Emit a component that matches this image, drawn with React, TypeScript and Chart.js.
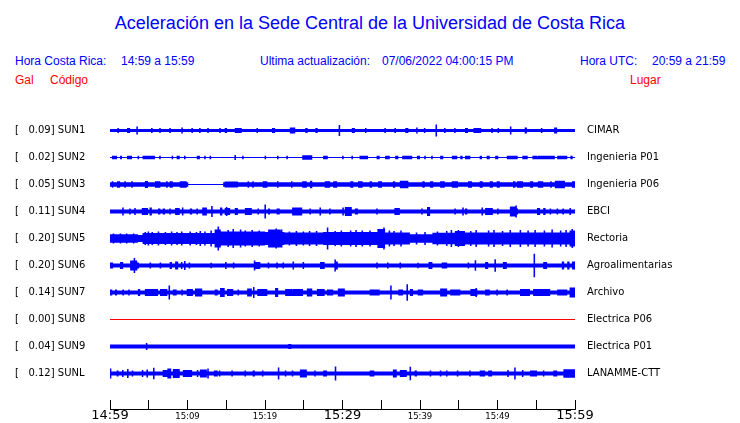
import React, { useEffect, useRef } from "react";
import { Chart, registerables } from "chart.js";
Chart.register(...registerables);

// ---------- data ----------
const stationCodes = ["SUN1", "SUN2", "SUN3", "SUN4", "SUN5", "SUN6", "SUN7", "SUN8", "SUN9", "SUNL"];
const stationNames = ["CIMAR", "Ingenieria P01", "Ingenieria P06", "EBCI", "Rectoria", "Agroalimentarias", "Archivo", "Electrica P06", "Electrica P01", "LANAMME-CTT"];
const peakGal = [0.09, 0.02, 0.05, 0.11, 0.2, 0.2, 0.14, 0.0, 0.04, 0.12];
// background (noise floor) half-amplitude of each trace
const baseAmp = [1.6, 0.5, 0.5, 2.0, 3.5, 2.0, 2.0, 0, 1.9, 2.0];

// bursts: [start minute, end minute, half-amplitude]
const sun1Bursts = [
  [1.0, 1.1, 2.4], [2.2, 2.6, 2.4], [3.45, 3.55, 4], [5.35, 5.45, 2.4], [6.4, 6.5, 2.4], [7.7, 7.8, 2.4],
  [9.2, 9.4, 3], [10.5, 10.7, 2.4], [11.5, 11.7, 2.4], [12.6, 12.7, 2.4], [14.1, 14.3, 2.4], [14.8, 15.1, 2.4],
  [16.1, 17.0, 2.4], [18.9, 19.1, 2.4], [20.9, 21.3, 2.4], [23.2, 23.9, 3], [25.2, 25.5, 2.4], [26.5, 26.8, 2.4],
  [29.55, 29.65, 5.5], [31.2, 31.6, 2.4], [32.9, 33.1, 2.4], [35.4, 35.6, 2.4], [36.7, 36.9, 2.4], [38.1, 38.5, 2.4],
  [39.5, 39.7, 3], [40.5, 40.7, 2.4], [42.05, 42.15, 6], [43.1, 43.3, 2.4], [44.4, 44.6, 2.4], [45.8, 46.2, 2.4],
  [46.9, 47.9, 2.4], [49.2, 49.4, 2.4], [50.0, 50.2, 2.4], [51.65, 51.75, 4], [53.5, 53.8, 3], [55.6, 55.8, 2.4],
  [57.3, 57.7, 3],
];
const sun2Bursts = [
  [0.25, 0.9, 1.8], [1.3, 1.55, 1.8], [2.2, 2.85, 1.8], [3.6, 3.7, 1.8], [4.2, 5.8, 1.8], [6.4, 6.5, 1.8],
  [8.0, 8.1, 1.8], [8.6, 9.0, 1.8], [9.6, 9.7, 1.8], [11.2, 11.6, 1.8], [12.2, 12.3, 1.8], [12.9, 13.0, 1.8],
  [16.1, 16.2, 2.5], [17.1, 17.2, 1.8], [20.0, 20.1, 1.8], [21.6, 21.7, 1.8], [22.8, 22.9, 1.8], [24.8, 26.1, 2.2],
  [27.5, 28.1, 1.8], [30.0, 30.1, 1.8], [31.2, 31.3, 1.8], [32.2, 33.3, 1.8], [34.4, 34.8, 1.8], [35.5, 36.1, 1.8],
  [36.8, 37.2, 1.8], [37.7, 39.0, 1.8], [39.6, 40.0, 1.8], [40.6, 40.7, 1.8], [41.5, 41.6, 1.8], [42.6, 43.0, 1.8],
  [44.1, 44.8, 1.8], [45.2, 45.5, 1.8], [45.8, 46.5, 1.8], [47.7, 48.0, 1.8], [48.6, 49.0, 1.8], [49.7, 50.1, 1.8],
  [51.2, 52.6, 1.8], [53.2, 53.9, 1.8], [54.5, 55.1, 1.8], [55.2, 57.4, 1.8], [57.7, 59.0, 1.8], [59.4, 59.7, 1.8],
];
const sun3Bursts = [
  [0, 10.1, 2.2], [14.6, 60, 2.2],
  [0.25, 0.4, 3.2], [0.9, 1.3, 3.2], [1.9, 2.0, 3.2], [2.8, 2.9, 3.2], [4.5, 4.9, 3.5], [5.8, 6.5, 3.2],
  [7.3, 7.4, 3.2], [7.7, 8.1, 3.2], [9.0, 9.9, 3.2], [14.8, 16.5, 3.0], [17.8, 17.9, 3.2], [18.4, 18.5, 3.2],
  [19.7, 20.3, 3.2], [21.6, 21.7, 3.2], [23.4, 23.5, 3.2], [24.8, 25.4, 3.2], [25.8, 26.1, 3.8], [27.7, 28.4, 3.2],
  [28.8, 29.3, 3.2], [31.0, 31.4, 3.2], [32.0, 32.6, 3.2], [33.5, 33.8, 3.2], [34.6, 35.1, 3.2], [36.5, 36.8, 3.2],
  [37.4, 38.5, 3.8], [40.3, 40.6, 3.2], [41.3, 41.7, 3.2], [42.6, 43.2, 3.2], [44.1, 44.9, 3.2], [46.2, 46.7, 3.2],
  [47.7, 48.1, 3.2], [49.0, 49.4, 3.2], [49.9, 50.3, 3.2], [52.0, 52.3, 3.2], [52.5, 53.3, 3.2], [54.2, 54.6, 3.2],
  [55.2, 55.9, 3.2], [56.8, 57.0, 3.2], [57.4, 58.7, 3.8], [59.6, 60, 3.2],
];
const sun4Bursts = [
  [1.6, 1.75, 4], [2.5, 2.65, 3], [3.15, 3.3, 3.5], [4.1, 4.9, 3.5], [5.1, 5.4, 4], [6.2, 6.5, 3], [6.8, 7.1, 3],
  [7.7, 7.8, 3], [8.4, 9.0, 3.5], [9.3, 9.45, 4], [10.3, 10.6, 3], [11.2, 11.3, 3], [11.9, 12.5, 4], [13.1, 13.2, 5.5],
  [14.2, 14.5, 4], [14.8, 15.5, 3.5], [15.0, 15.1, 4.5], [16.1, 16.5, 3.5], [17.4, 18.3, 3.5], [19.05, 19.2, 3],
  [19.95, 20.1, 7], [20.4, 20.65, 3], [21.5, 21.9, 3], [23.5, 24.8, 4], [25.75, 25.9, 3], [27.05, 27.2, 4],
  [28.3, 28.45, 3], [30.0, 30.15, 4], [30.3, 31.2, 4.5], [31.6, 32.0, 3], [34.4, 34.5, 3], [36.7, 37.4, 3.5],
  [40.2, 40.3, 3], [40.9, 41.3, 4.5], [44.45, 44.6, 3], [45.5, 45.6, 4], [45.8, 46.1, 3], [47.95, 48.1, 4],
  [48.4, 49.4, 3.5], [50.0, 50.1, 3], [51.6, 52.3, 5], [52.35, 52.45, 6], [52.5, 52.6, 3], [55.1, 55.5, 3.5],
  [55.9, 56.2, 3.5], [56.75, 56.9, 3], [57.65, 57.8, 3], [58.4, 58.55, 3], [59.3, 59.45, 3.5],
];
const sun5Bursts = [
  [0, 3.6, 4.3], [4.2, 13.5, 5.5], [13.5, 14.3, 9], [13.9, 14.05, 12], [14.3, 20, 7], [15.8, 16.0, 9.5],
  [20, 22.5, 6.5], [20.4, 22.0, 9], [22.5, 27.5, 6], [28.0, 28.15, 11], [27.5, 34.5, 6.5], [34.5, 35.5, 9.5],
  [35.3, 35.4, 11], [35.5, 38.7, 6], [38.7, 41.6, 4.2], [41.6, 44.5, 5.8], [44.5, 45.8, 7.5], [45.8, 60, 6],
  [0.4, 0.5, 5], [1.3, 1.4, 5], [2.1, 2.2, 5], [3.0, 3.1, 5], [4.5, 4.6, 6.5], [4.9, 5.0, 7], [5.4, 5.5, 6.5],
  [6.2, 6.3, 7], [7.1, 7.2, 6.5], [7.9, 8.0, 7], [8.6, 8.7, 6.5], [9.2, 9.3, 7], [10.3, 10.4, 7], [11.1, 11.2, 6.5],
  [11.6, 11.7, 7.5], [12.2, 12.3, 7], [13.0, 13.1, 8], [15.2, 15.3, 8.5], [16.8, 16.9, 9], [17.4, 17.5, 8],
  [18.3, 18.4, 8.5], [19.2, 19.3, 8], [20.8, 20.9, 8.5], [21.4, 21.5, 10], [22.1, 22.2, 9], [23.1, 23.2, 7],
  [24.0, 24.1, 7.5], [24.9, 25.0, 7], [25.7, 25.8, 7.5], [26.6, 26.7, 7.5], [29.0, 29.1, 7.5], [29.8, 29.9, 8],
  [31.0, 31.1, 8], [31.7, 31.8, 8.5], [32.5, 32.6, 8], [33.5, 33.6, 8], [36.0, 36.1, 8], [36.6, 36.7, 7.5],
  [37.5, 37.6, 8], [39.5, 39.6, 6], [40.6, 40.7, 6.5], [42.2, 42.3, 7], [43.4, 43.5, 7.5], [44.0, 44.1, 8.5],
  [44.9, 45.0, 8.5], [46.5, 46.6, 7.5], [47.2, 47.3, 8.5], [48.8, 48.9, 8], [49.5, 49.6, 8.5], [50.6, 50.7, 7.5],
  [51.6, 51.7, 8.5], [52.9, 53.0, 8.5], [53.9, 54.0, 8], [54.8, 54.9, 8.5], [56.0, 56.1, 8], [57.0, 57.1, 9],
  [58.1, 58.2, 8], [58.8, 58.9, 8.5], [59.3, 60, 8], [59.6, 59.7, 9.5],
];
const sun6Bursts = [
  [0, 0.4, 3], [1.3, 1.7, 3.5], [2.6, 3.5, 5], [3.1, 3.2, 7.5], [3.6, 3.7, 3], [5.15, 5.25, 3], [6.45, 6.55, 3],
  [7.7, 8.0, 3.5], [8.4, 8.8, 4], [9.2, 9.3, 3.5], [9.6, 9.7, 4.5], [10.2, 10.3, 3], [13.0, 13.1, 2.8],
  [14.9, 15.0, 3.5], [15.9, 16.0, 3], [18.6, 19.4, 3.5], [18.6, 18.7, 5], [20.4, 20.5, 3], [21.5, 21.6, 3],
  [22.3, 22.4, 3], [23.6, 23.7, 4], [24.9, 25.0, 3.5], [27.1, 27.7, 3.5], [29.0, 29.4, 4], [29.0, 29.1, 6],
  [34.4, 34.5, 3], [35.8, 35.9, 3], [37.4, 37.5, 3], [39.7, 39.8, 2.8], [41.1, 41.6, 3.5], [42.8, 43.5, 3],
  [46.2, 46.3, 3], [47.1, 47.2, 5.3], [48.4, 48.8, 3.5], [49.65, 49.75, 6.3], [50.7, 51.2, 3.5], [54.7, 54.8, 11.7],
  [55.9, 56.4, 3.5], [58.3, 58.6, 4], [59.0, 59.3, 4], [59.6, 60, 4],
];
const sun7Bursts = [
  [0, 0.3, 3], [0.65, 0.9, 3], [1.6, 1.8, 3], [2.4, 2.5, 3], [3.6, 3.9, 3.5], [4.5, 6.2, 3.4], [6.45, 7.4, 3.5],
  [7.6, 7.7, 7], [8.1, 8.6, 3], [9.25, 9.35, 3], [9.9, 10.7, 3.5], [10.97, 11.9, 4], [13.5, 13.9, 3], [14.2, 14.8, 4.5],
  [15.1, 15.9, 3.5], [16.5, 16.6, 3], [17.7, 18.3, 4], [18.5, 18.6, 5.5], [19.0, 20.3, 3.5], [21.3, 21.7, 4.5],
  [22.6, 23.5, 3.5], [23.6, 24.9, 3.5], [25.4, 26.1, 4], [26.7, 27.7, 3.5], [28.0, 28.8, 3], [29.4, 30.3, 4],
  [33.5, 34.8, 3], [36.2, 36.3, 7], [37.2, 37.8, 3], [38.3, 38.4, 8.3], [38.7, 39.1, 3.5], [39.7, 40.4, 3],
  [42.6, 43.5, 4], [43.9, 45.2, 3], [46.5, 47.4, 3.5], [47.2, 47.3, 4.5], [48.4, 49.0, 3], [49.9, 50.0, 3],
  [51.2, 51.3, 3], [52.9, 54.2, 3.5], [54.6, 56.8, 3.5], [57.7, 59.0, 3], [59.3, 60, 5],
];
const sun8Bursts: number[][] = [];
const sun9Bursts = [[4.65, 4.8, 3.5], [23.0, 23.4, 2.5]];
const sunlBursts = [
  [0, 0.15, 5], [0.85, 1.1, 3], [1.6, 1.7, 3.5], [2.2, 2.4, 4.5], [2.8, 3.0, 3], [4.1, 4.3, 3.5], [4.7, 4.9, 4],
  [5.6, 5.7, 5.7], [6.8, 7.4, 3.5], [7.4, 7.9, 5], [8.1, 9.0, 4.5], [9.4, 10.6, 3.5], [11.2, 11.4, 3.5],
  [11.6, 12.5, 4], [12.6, 12.7, 5], [13.4, 13.9, 3], [14.1, 14.2, 3], [15.7, 15.8, 3], [17.4, 17.5, 3],
  [18.4, 18.7, 3], [19.6, 19.8, 3], [21.7, 21.8, 6], [22.6, 22.7, 3], [23.5, 23.6, 3], [24.5, 25.4, 4],
  [26.4, 26.5, 3], [27.5, 28.0, 3], [29.0, 29.2, 7], [33.5, 34.1, 3], [36.5, 37.0, 4], [37.4, 38.3, 3.5],
  [38.7, 38.8, 6.7], [39.3, 39.6, 3], [41.3, 41.4, 3], [42.6, 42.7, 3], [43.4, 43.5, 3], [44.8, 44.9, 3],
  [46.4, 46.5, 3], [47.7, 48.4, 3], [48.8, 49.3, 3], [51.3, 51.4, 3.5], [52.2, 52.3, 6], [53.2, 53.3, 3.5],
  [54.2, 55.1, 3], [55.9, 56.0, 3], [57.2, 57.7, 3], [58.5, 60, 4.3],
];
const stationBursts = [sun1Bursts, sun2Bursts, sun3Bursts, sun4Bursts, sun5Bursts, sun6Bursts, sun7Bursts, sun8Bursts, sun9Bursts, sunlBursts];

const timeTickValues = [0, 5, 10, 15, 20, 25, 30, 35, 40, 45, 50, 55, 60];
const timeLabelValues = [0, 10, 20, 30, 40, 50, 60];
const timeLabels = ["14:59", "15:09", "15:19", "15:29", "15:39", "15:49", "15:59"];
const bigTimeLabels = ["14:59", "15:29", "15:59"];

// ---------- layout / style ----------
const W = 740;
const H = 423;
const TRACE_FIRST = 30.5;
const TRACE_STEP = 27;
const BLUE = "#0000ff";
const RED = "#ff0000";
const MIN_W = 0.2;

function envelope(base: number, segs: number[][]) {
  const s = segs.map(([a0, b0, h]) => {
    let a = a0, b = b0;
    if (b - a < MIN_W) {
      const c = (a + b) / 2;
      a = c - MIN_W / 2;
      b = c + MIN_W / 2;
    }
    return [Math.max(0, a), Math.min(60, b), h];
  });
  const bps = Array.from(new Set([0, 60, ...s.flatMap((g) => [g[0], g[1]])])).sort((a, b) => a - b);
  const pts: { x: number; h: number }[] = [];
  for (let k = 0; k < bps.length - 1; k++) {
    const m = (bps[k] + bps[k + 1]) / 2;
    let h = base;
    for (const g of s) if (g[0] <= m && m <= g[1]) h = Math.max(h, g[2]);
    if (pts.length && pts[pts.length - 1].h === h) {
      pts[pts.length - 1] = { x: bps[k + 1], h };
    } else {
      pts.push({ x: bps[k], h });
      pts.push({ x: bps[k + 1], h });
    }
  }
  return pts;
}

function timeLabelFor(v: number) {
  const k = timeLabelValues.indexOf(v);
  return k >= 0 ? timeLabels[k] : "";
}

export default function App() {
  const mainRef = useRef<HTMLCanvasElement>(null);
  const axisRef = useRef<HTMLCanvasElement>(null);

  useEffect(() => {
    const offsets = stationCodes.map((_, i) => TRACE_FIRST + TRACE_STEP * i);
    const leftLabels = stationCodes.map((c, i) => `[   ${peakGal[i].toFixed(2)}] ${c}`);
    const datasets: any[] = [];
    stationCodes.forEach((_, i) => {
      const off = offsets[i];
      if (peakGal[i] === 0) {
        datasets.push({
          data: [{ x: 0, y: off }, { x: 60, y: off }],
          borderColor: RED,
          borderWidth: 1,
          pointRadius: 0,
          fill: false,
        });
        return;
      }
      const env = envelope(baseAmp[i], stationBursts[i]);
      datasets.push({
        data: env.map((p) => ({ x: p.x, y: off - p.h })),
        borderColor: "rgba(0,0,0,0)",
        borderWidth: 0,
        backgroundColor: BLUE,
        fill: "+1",
        pointRadius: 0,
        tension: 0,
      });
      datasets.push({
        data: env.map((p) => ({ x: p.x, y: off + p.h })),
        borderColor: "rgba(0,0,0,0)",
        borderWidth: 0,
        pointRadius: 0,
        fill: false,
        tension: 0,
      });
    });

    const yCommon = (labels: string[]) => ({
      type: "linear" as const,
      min: 0,
      max: 300,
      reverse: true,
      afterBuildTicks: (s: any) => {
        s.ticks = offsets.map((v) => ({ value: v }));
      },
      grid: { display: false, drawTicks: false },
      border: { display: false },
      ticks: {
        autoSkip: false,
        color: "#000",
        font: { family: "DejaVu Sans", size: 10 },
        callback: (_v: any, i: number) => labels[i],
      },
    });

    const main = new Chart(mainRef.current!, {
      type: "line",
      data: { datasets },
      options: {
        responsive: false,
        animation: false,
        events: [],
        layout: { padding: { left: 15, right: 0, top: 100, bottom: 23 } },
        plugins: { legend: { display: false }, tooltip: { enabled: false } },
        scales: {
          x: { type: "linear", min: 0, max: 60, display: false },
          y: {
            ...yCommon(leftLabels),
            position: "left",
            afterFit: (s: any) => {
              s.width = 95;
            },
            ticks: { ...yCommon(leftLabels).ticks, crossAlign: "far", padding: 0 },
          },
          y2: {
            ...yCommon(stationNames),
            position: "right",
            afterFit: (s: any) => {
              s.width = 165;
            },
            ticks: { ...yCommon(stationNames).ticks, padding: 12 },
          },
        },
      } as any,
    });

    const axis = new Chart(axisRef.current!, {
      type: "line",
      data: { datasets: [] },
      options: {
        responsive: false,
        animation: false,
        events: [],
        layout: { padding: { left: 110, right: 165, top: 400, bottom: 0 } },
        plugins: { legend: { display: false }, tooltip: { enabled: false } },
        scales: {
          x: {
            type: "linear",
            min: 0,
            max: 60,
            position: "bottom",
            afterFit: (s: any) => {
              s.height = 14;
            },
            afterBuildTicks: (s: any) => {
              s.ticks = timeTickValues.map((v) => ({ value: v }));
            },
            grid: { display: true, drawOnChartArea: true, drawTicks: false, color: "#000", lineWidth: 1 },
            border: { display: true, color: "#000", width: 1 },
            ticks: {
              autoSkip: false,
              maxRotation: 0,
              padding: 0,
              color: "#000",
              font: (ctx: any) => {
                const lab = timeLabelFor(ctx.tick ? ctx.tick.value : -1);
                return bigTimeLabels.includes(lab)
                  ? { family: "DejaVu Sans", size: 13, lineHeight: "14px" }
                  : { family: "DejaVu Sans", size: 8.5, lineHeight: "15px" };
              },
              callback: (v: any) => timeLabelFor(v),
            },
          },
          y: { type: "linear", min: 0, max: 1, display: false },
        },
      } as any,
    });

    return () => {
      main.destroy();
      axis.destroy();
    };
  }, []);

  const txt = (left: number, top: number, size: number, color: string, s: string, extra: any = {}) => (
    <div
      style={{
        position: "absolute",
        left,
        top,
        fontSize: size,
        lineHeight: `${size + 2}px`,
        color,
        whiteSpace: "pre",
        fontFamily: '"Liberation Sans", Arial, sans-serif',
        ...extra,
      }}
    >
      {s}
    </div>
  );

  return (
    <div style={{ position: "fixed", left: 0, top: 0, width: W, height: H, background: "#fff", overflow: "hidden" }}>
      {txt(0, 13, 18, BLUE, "Aceleración en la Sede Central de la Universidad de Costa Rica", { width: W, textAlign: "center" })}
      {txt(15, 54, 12, BLUE, "Hora Costa Rica:")}
      {txt(121, 54, 12, BLUE, "14:59 a 15:59")}
      {txt(260, 54, 12, BLUE, "Ultima actualización:")}
      {txt(382, 54, 12, BLUE, "07/06/2022 04:00:15 PM")}
      {txt(580, 54, 12, BLUE, "Hora UTC:")}
      {txt(652, 54, 12, BLUE, "20:59 a 21:59")}
      {txt(15, 73, 12, RED, "Gal")}
      {txt(50, 73, 12, RED, "Código")}
      {txt(630, 73, 12, RED, "Lugar")}
      <canvas ref={mainRef} width={W} height={H} style={{ position: "absolute", left: 0, top: 0 }} />
      <canvas ref={axisRef} width={W} height={H} style={{ position: "absolute", left: 0, top: 0 }} />
    </div>
  );
}
